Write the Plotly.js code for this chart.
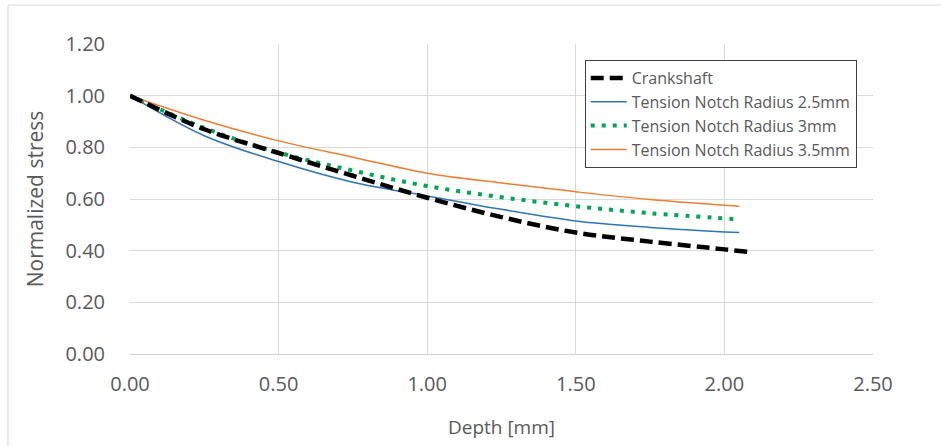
<!DOCTYPE html>
<html>
<head>
<meta charset="utf-8">
<script src="https://cdn.plot.ly/plotly-3.0.1.min.js"></script>
<style>html,body{margin:0;padding:0;background:#fff;}#chart{width:941px;height:446px;}</style>
</head>
<body>
<div id="chart"></div>
<script>
// Data
const crankX = [0, 0.25, 0.5, 0.75, 1.0, 1.25, 1.5, 1.75, 2.0, 2.08];
const crankY = [1.00, 0.87, 0.778, 0.69, 0.605, 0.53, 0.47, 0.435, 0.405, 0.395];

const r25X = [0, 0.25, 0.5, 0.75, 1.0, 1.25, 1.5, 1.75, 2.05];
const r25Y = [1.00, 0.845, 0.745, 0.665, 0.612, 0.56, 0.515, 0.49, 0.47];

const r3X = [0, 0.25, 0.5, 0.75, 1.0, 1.25, 1.5, 1.75, 2.03];
const r3Y = [1.00, 0.875, 0.78, 0.71, 0.65, 0.607, 0.572, 0.545, 0.523];

const r35X = [0, 0.25, 0.5, 0.75, 1.0, 1.25, 1.5, 1.75, 2.05];
const r35Y = [1.00, 0.905, 0.825, 0.762, 0.70, 0.662, 0.628, 0.598, 0.572];

const names = ["Crankshaft", "Tension Notch Radius 2.5mm", "Tension Notch Radius 3mm", "Tension Notch Radius 3.5mm"];
const xTicks = [0, 0.5, 1.0, 1.5, 2.0, 2.5];
const yTicks = [0, 0.2, 0.4, 0.6, 0.8, 1.0, 1.2];

const fontFam = "'Open Sans', 'Liberation Sans', sans-serif";
const txt = "#595959";

const traces = [
  {x: r25X, y: r25Y, name: names[1], mode: "lines", legendrank: 2,
   line: {color: "#2E75B6", width: 1.5, shape: "spline"}},
  {x: r3X, y: r3Y, name: names[2], mode: "lines", legendrank: 3,
   line: {color: "#00A651", width: 4, dash: "4px,7px", shape: "spline"}},
  {x: r35X, y: r35Y, name: names[3], mode: "lines", legendrank: 4,
   line: {color: "#ED7D31", width: 1.5, shape: "spline"}},
  {x: crankX, y: crankY, name: names[0], mode: "lines", legendrank: 1,
   line: {color: "#000000", width: 4.5, dash: "13px,6px", shape: "spline"}}
];

const layout = {
  width: 941, height: 446,
  paper_bgcolor: "#ffffff", plot_bgcolor: "#ffffff",
  margin: {l: 130, r: 68, t: 44, b: 92},
  font: {family: fontFam, color: txt, size: 17},
  showlegend: true,
  legend: {
    x: 0.612, y: 0.948, xanchor: "left", yanchor: "top",
    bgcolor: "#ffffff", bordercolor: "#404040", borderwidth: 1,
    font: {family: fontFam, color: txt, size: 16},
    tracegroupgap: 0, itemwidth: 36
  },
  xaxis: {
    range: [0, 2.5], tickvals: xTicks, ticktext: xTicks.map(v => v.toFixed(2)),
    showgrid: true, gridcolor: "#D9D9D9", gridwidth: 1,
    zeroline: false, showline: true, linecolor: "#D0D0D0", linewidth: 1,
    ticks: "outside", ticklen: 12, tickcolor: "rgba(0,0,0,0)",
    tickfont: {family: fontFam, color: txt, size: 20},
    title: {text: "Depth [mm]", font: {family: fontFam, color: txt, size: 19}, standoff: 24},
    automargin: false, fixedrange: true
  },
  yaxis: {
    range: [0, 1.2], tickvals: yTicks, ticktext: yTicks.map(v => v.toFixed(2)),
    showgrid: true, gridcolor: "#D9D9D9", gridwidth: 1,
    zeroline: false, showline: false,
    ticks: "outside", ticklen: 20, tickcolor: "rgba(0,0,0,0)",
    tickfont: {family: fontFam, color: txt, size: 20},
    title: {text: "Normalized stress", font: {family: fontFam, color: txt, size: 21}, standoff: 16},
    automargin: false, fixedrange: true
  },
  shapes: [{
    type: "rect", xref: "paper", yref: "paper",
    x0: -0.1642, x1: 1.1, y0: -0.3, y1: 1.1258,
    line: {color: "#D9D9D9", width: 1}, fillcolor: "rgba(0,0,0,0)", layer: "below"
  }]
};

Plotly.newPlot("chart", traces, layout, {staticPlot: true, displayModeBar: false});
</script>
</body>
</html>
